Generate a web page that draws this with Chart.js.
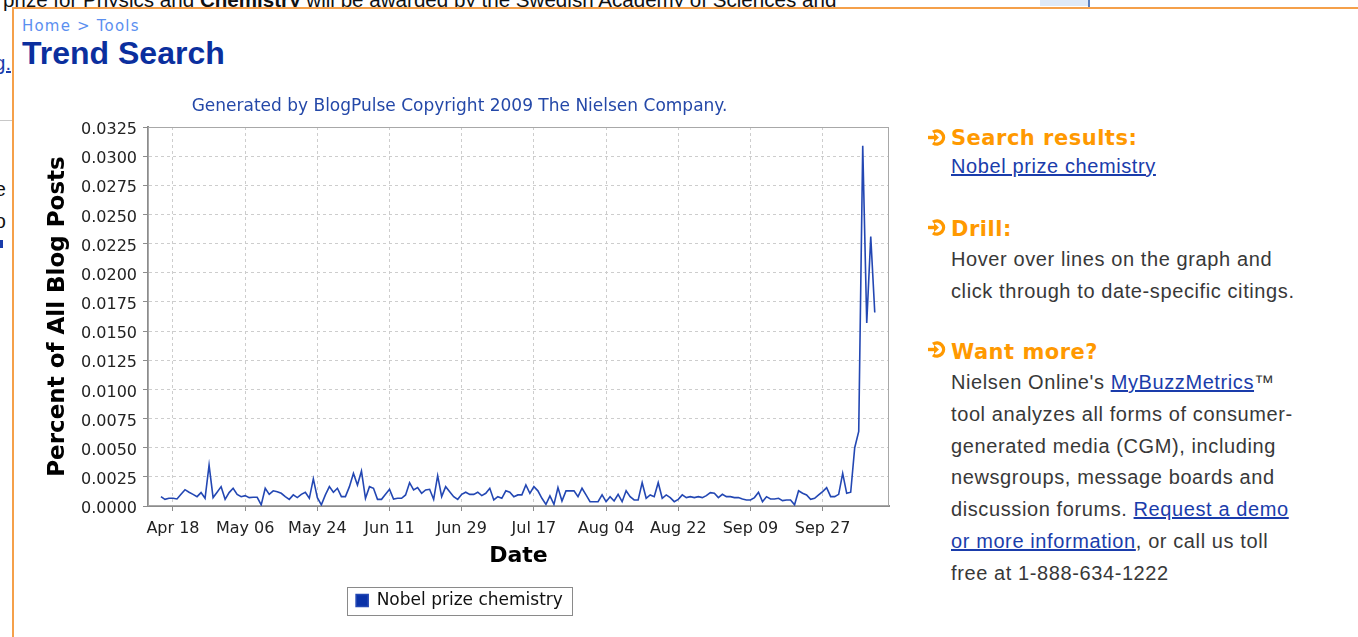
<!DOCTYPE html>
<html>
<head>
<meta charset="utf-8">
<title>Trend Search</title>
<script src="https://cdn.jsdelivr.net/npm/chart.js@4.4.1/dist/chart.umd.min.js"></script>
<style>
  html, body { margin: 0; padding: 0; background: #fff; overflow: hidden; }
  body { width: 1358px; height: 637px; position: relative; font-family: "Liberation Sans", Arial, sans-serif; }
  .abs { position: absolute; white-space: nowrap; }
  .bgtext { left: 3px; top: -12px; font-size: 20.6px; line-height: 24px; color: #111; }
  .panel { left: 12px; top: 7px; width: 1400px; height: 700px; border-left: 2px solid #f5a04a; border-top: 2px solid #f5a04a; background: #fff; }
  .crumb { left: 22px; top: 17px; font-family: "DejaVu Sans", sans-serif; font-size: 15px; letter-spacing: 1.2px; color: #5b8ff0; }
  .head { left: 22px; top: 35px; font-family: "Liberation Sans", sans-serif; font-weight: bold; font-size: 32px; color: #0b2f9e; }
  .arrow { left: 927px; width: 19px; height: 17px; }
  .h2 { left: 951px; font-family: "DejaVu Sans", sans-serif; font-weight: bold; font-size: 21px; letter-spacing: 0.5px; color: #ff9900; line-height: 28px; }
  .txt { left: 951px; font-family: "Liberation Sans", sans-serif; font-size: 20px; letter-spacing: 0.6px; color: #383838; line-height: 31.8px; }
  .txt a { color: #1a3cab; text-decoration: underline; }
  #wrap { position: absolute; left: 30px; top: 88px; width: 865px; height: 531px; }
</style>
</head>
<body>
<div class="abs bgtext">prize for Physics and <b>Chemistry</b> will be awarded by the Swedish Academy of Sciences and</div>
<div class="abs" style="left:1040px;top:0;width:48px;height:6px;background:#dfe9f7;"></div>
<div class="abs" style="left:1088px;top:0;width:2px;height:7px;background:#5a7fc0;"></div>
<div class="abs" style="right:1347px;top:52px;font-size:20px;color:#1a3cab;text-decoration:underline;">blog.</div>
<div class="abs" style="left:0;top:120px;width:12px;height:1px;background:#c8c8c8;"></div>
<div class="abs" style="right:1352px;top:178px;font-size:20px;color:#111;">the</div>
<div class="abs" style="right:1352px;top:210px;font-size:20px;color:#111;">to</div>
<div class="abs" style="left:0;top:240px;width:3px;height:8px;background:#1a3cab;"></div>

<div class="abs panel"></div>
<div class="abs crumb">Home &gt; Tools</div>
<div class="abs head">Trend Search</div>

<div id="wrap"><canvas id="trendChart" width="865" height="531"></canvas></div>

<svg class="abs arrow" style="top:129px;" viewBox="0 0 19 17"><path d="M6 3.2 A6.6 6.6 0 1 1 6 13.8" fill="none" stroke="#ff9900" stroke-width="3.4"/><path d="M1 8.5 H8" stroke="#ff9900" stroke-width="3.4"/><path d="M7 4 L12 8.5 L7 13 Z" fill="#ff9900"/></svg>
<div class="abs h2" style="top:124px;">Search results:</div>
<div class="abs txt" style="top:151px;"><a>Nobel prize chemistry</a></div>

<svg class="abs arrow" style="top:219px;" viewBox="0 0 19 17"><path d="M6 3.2 A6.6 6.6 0 1 1 6 13.8" fill="none" stroke="#ff9900" stroke-width="3.4"/><path d="M1 8.5 H8" stroke="#ff9900" stroke-width="3.4"/><path d="M7 4 L12 8.5 L7 13 Z" fill="#ff9900"/></svg>
<div class="abs h2" style="top:215px;">Drill:</div>
<div class="abs txt" style="top:244px;">Hover over lines on the graph and<br>click through to date-specific citings.</div>

<svg class="abs arrow" style="top:341px;" viewBox="0 0 19 17"><path d="M6 3.2 A6.6 6.6 0 1 1 6 13.8" fill="none" stroke="#ff9900" stroke-width="3.4"/><path d="M1 8.5 H8" stroke="#ff9900" stroke-width="3.4"/><path d="M7 4 L12 8.5 L7 13 Z" fill="#ff9900"/></svg>
<div class="abs h2" style="top:338px;">Want more?</div>
<div class="abs txt" style="top:367px;">Nielsen Online's <a>MyBuzzMetrics</a>&trade;<br>tool analyzes all forms of consumer-<br>generated media (CGM), including<br>newsgroups, message boards and<br>discussion forums. <a>Request a demo</a><br><a>or more information</a>, or call us toll<br>free at 1-888-634-1222</div>

<script>
// daily share of blog posts, first day Apr 15 2009, last day Oct 10 2009
const firstDay = "2009-04-15";
const seriesName = "Nobel prize chemistry";
const percentPosts = [
  0.0008, 0.00057, 0.00066, 0.00066, 0.0006, 0.001, 0.0014, 0.00118, 0.001, 0.0008,
  0.00115, 0.00066, 0.0035, 0.00072, 0.00118, 0.00166, 0.00057, 0.00115, 0.00152, 0.001,
  0.0008, 0.00089, 0.00072, 0.00075, 0.00075, 0.0001, 0.00152, 0.001, 0.0013, 0.00123,
  0.00109, 0.0008, 0.00057, 0.00095, 0.00072, 0.001, 0.00118, 0.00066, 0.00232, 0.00072,
  0.0001, 0.00095, 0.00166, 0.00118, 0.00152, 0.0008, 0.0008, 0.00166, 0.0028, 0.0018,
  0.003, 0.00066, 0.00166, 0.00152, 0.00057, 0.00057, 0.001, 0.00143, 0.0006, 0.00066,
  0.00066, 0.00095, 0.002, 0.00138, 0.00158, 0.00109, 0.00138, 0.00143, 0.00057, 0.0026,
  0.0008, 0.00166, 0.00123, 0.0008, 0.00057, 0.001, 0.00118, 0.001, 0.001, 0.00118,
  0.00089, 0.00109, 0.00152, 0.00052, 0.0008, 0.00066, 0.0013, 0.00118, 0.0008, 0.00095,
  0.00095, 0.0018, 0.00109, 0.00166, 0.0013, 0.00066, 0.00014, 0.00086, 0.00014, 0.00158,
  0.00043, 0.0013, 0.0013, 0.0013, 0.0008, 0.00152, 0.00095, 0.00037, 0.00037, 0.00037,
  0.00095, 0.00037, 0.0008, 0.00043, 0.001, 0.00037, 0.0013, 0.0008, 0.00052, 0.00052,
  0.002, 0.00066, 0.00095, 0.0008, 0.002, 0.00066, 0.00095, 0.00072, 0.00037, 0.00057,
  0.00095, 0.00072, 0.0008, 0.00072, 0.0008, 0.00072, 0.00089, 0.00115, 0.00109, 0.00072,
  0.001, 0.0008, 0.0008, 0.00072, 0.00072, 0.0006, 0.00052, 0.00052, 0.00072, 0.00118,
  0.00037, 0.0008, 0.0006, 0.0006, 0.00066, 0.00046, 0.00052, 0.00052, 0.0001, 0.0013,
  0.00109, 0.00095, 0.00057, 0.00066, 0.00095, 0.00123, 0.00158, 0.0008, 0.0008, 0.001,
  0.0028, 0.00109, 0.00118, 0.005, 0.0064, 0.0309, 0.0157, 0.0231, 0.0166
];
// x ticks: day number counted from firstDay
const tickDays = [3, 21, 39, 57, 75, 93, 111, 129, 147, 165];
const tickLabels = ["Apr 18", "May 06", "May 24", "Jun 11", "Jun 29", "Jul 17", "Aug 04", "Aug 22", "Sep 09", "Sep 27"];

Chart.defaults.font.family = "'DejaVu Sans', sans-serif";

const plotFrame = {
  id: "plotFrame",
  beforeDatasetsDraw(chart) {
    const a = chart.chartArea, c = chart.ctx;
    c.save();
    c.strokeStyle = "#a8a8a8";
    c.lineWidth = 1;
    c.strokeRect(Math.round(a.left) + 0.5, Math.round(a.top) + 0.5, Math.round(a.width) - 1, Math.round(a.height) - 1);
    c.restore();
  }
};

const legendFrame = {
  id: "legendFrame",
  afterDraw(chart) {
    const hb = chart.legend.legendHitBoxes[0];
    if (!hb) return;
    const c = chart.ctx;
    const cy = hb.top + hb.height / 2;
    c.save();
    c.strokeStyle = "#8a8a8a";
    c.lineWidth = 1;
    c.strokeRect(Math.round(hb.left - 9) + 0.5, Math.round(cy - 14) + 0.5, Math.round(hb.width + 18), 28);
    c.restore();
  }
};

const ctx = document.getElementById("trendChart").getContext("2d");
new Chart(ctx, {
  type: "line",
  data: {
    datasets: [{
      label: seriesName,
      data: percentPosts.map((v, i) => ({ x: i, y: v })),
      borderColor: "#2347b3",
      backgroundColor: "#0a32a8",
      borderWidth: 1.6,
      pointRadius: 0,
      tension: 0,
      fill: false
    }]
  },
  options: {
    responsive: false,
    animation: false,
    devicePixelRatio: 1,
    layout: { padding: { left: 0, right: 6, top: 0, bottom: 0 } },
    plugins: {
      tooltip: { enabled: false },
      title: {
        display: true,
        text: "Generated by BlogPulse Copyright 2009 The Nielsen Company.",
        color: "#2448a8",
        font: { size: 17, weight: "normal" },
        padding: { top: 8.6, bottom: 10 }
      },
      legend: {
        position: "bottom",
        labels: {
          color: "#111",
          font: { size: 17 },
          boxWidth: 12,
          boxHeight: 12,
          padding: 8
        }
      }
    },
    scales: {
      x: {
        type: "linear",
        min: -3.23,
        max: 181.55,
        afterBuildTicks: s => { s.ticks = tickDays.map(v => ({ value: v })); },
        afterFit: s => { s.height = 78; },
        ticks: {
          autoSkip: false,
          maxRotation: 0,
          padding: 8,
          color: "#222",
          font: { size: 16 },
          callback: v => tickLabels[tickDays.indexOf(v)]
        },
        grid: { color: "#cdcdcd", tickColor: "#8c8c8c", tickLength: 5, tickBorderDash: [] },
        border: { color: "#8c8c8c", width: 2, dash: [3, 3] },
        title: {
          display: true,
          text: "Date",
          color: "#000",
          font: { size: 22, weight: "bold" },
          padding: { top: 0, bottom: 15 }
        }
      },
      y: {
        min: 0,
        max: 0.0325,
        afterFit: s => { s.width = 118; },
        ticks: {
          stepSize: 0.0025,
          padding: 6,
          labelOffset: 3,
          color: "#222",
          font: { size: 16 },
          callback: v => v.toFixed(4)
        },
        grid: { color: "#cdcdcd", tickColor: "#8c8c8c", tickLength: 5, tickBorderDash: [] },
        border: { color: "#8c8c8c", width: 2, dash: [3, 3] },
        title: {
          display: true,
          text: "Percent of All Blog Posts",
          color: "#000",
          font: { size: 23, weight: "bold" },
          padding: { top: 14, bottom: 0 }
        }
      }
    }
  },
  plugins: [plotFrame, legendFrame]
});
</script>
</body>
</html>
